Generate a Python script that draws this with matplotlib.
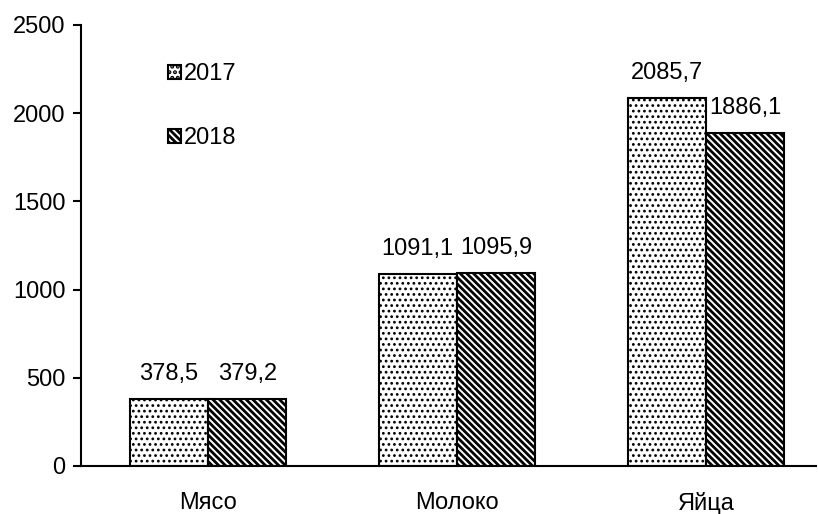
import numpy as np
import matplotlib
matplotlib.use("Agg")
import matplotlib.pyplot as plt

plt.rcParams['font.family'] = ['Liberation Sans', 'DejaVu Sans']

# Data
categories = ['Мясо', 'Молоко', 'Яйца']
years = ['2017', '2018']
values_2017 = [378.5, 1091.1, 2085.7]
values_2018 = [379.2, 1095.9, 1886.1]

fig = plt.figure(figsize=(8.18, 5.14), dpi=100)
ax = fig.add_axes([0.099, 0.0934, 0.898, 0.858])

x = np.arange(len(categories))
w = 0.315
fs = 17

plt.rcParams['hatch.linewidth'] = 1.2
b1 = ax.bar(x - w / 2, values_2017, w, color='white', edgecolor='black',
            hatch='...', linewidth=1.5, label=years[0])
plt.rcParams['hatch.linewidth'] = 2.0
b2 = ax.bar(x + w / 2, values_2018, w, color='white', edgecolor='black',
            hatch='\\\\\\\\\\', linewidth=1.5, label=years[1])

for bars, vals in ((b1, values_2017), (b2, values_2018)):
    for rect, v in zip(bars, vals):
        ax.annotate(f"{v:.1f}".replace('.', ','),
                    (rect.get_x() + rect.get_width() / 2, rect.get_height()),
                    xytext=(0, 10), textcoords='offset points',
                    ha='center', va='bottom', fontsize=fs)

ax.set_ylim(0, 2500)
ax.set_yticks(np.arange(0, 2501, 500))
ax.set_xlim(-0.51, 2.44)
ax.set_xticks(x)
ax.set_xticklabels(categories)
ax.tick_params(axis='y', direction='out', length=6, width=1.5, labelsize=fs, pad=5)
ax.tick_params(axis='x', length=0, labelsize=fs, pad=19)

for s in ('top', 'right'):
    ax.spines[s].set_visible(False)
ax.spines['left'].set_linewidth(1.5)
ax.spines['bottom'].set_linewidth(1.5)

ax.legend(loc='upper left', bbox_to_anchor=(0.089, 0.962), frameon=False,
          fontsize=fs, handlelength=0.55, handleheight=0.55, handletextpad=0.15,
          labelspacing=1.8)

fig.savefig('out.png', dpi=100)
